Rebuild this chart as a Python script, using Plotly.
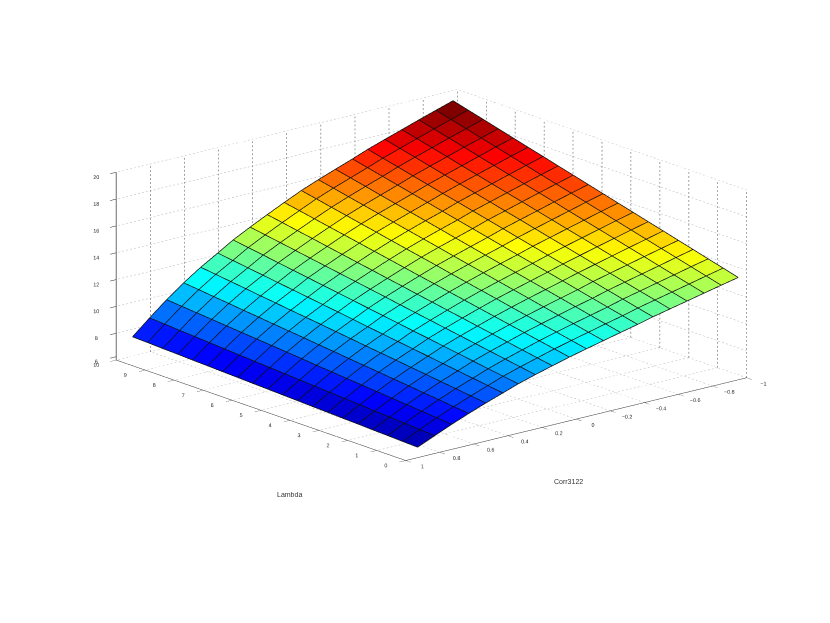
import plotly.graph_objects as go

# axis ticks
lambda_ticks = [0, 1, 2, 3, 4, 5, 6, 7, 8, 9, 10]
corr_ticks = [-1, -0.8, -0.6, -0.4, -0.2, 0, 0.2, 0.4, 0.6, 0.8, 1]
z_ticks = [6, 8, 10, 12, 14, 16, 18, 20]
# the 6 sits a little above its spot so it does not land on the lambda 10 label
z_tick_spots = [6.25, 8, 10, 12, 14, 16, 18, 20]

# surface grid, values
lambdas = [0, 0.52, 1.04, 1.56, 2.07, 2.59, 3.11, 3.63, 4.15, 4.67, 5.18, 5.7, 6.22, 6.74, 7.26, 7.78, 8.29, 8.81, 9.33, 9.85]
corrs = [0.93, 0.83, 0.73, 0.63, 0.53, 0.43, 0.34, 0.24, 0.14, 0.04, -0.06, -0.16, -0.26, -0.36, -0.45, -0.55, -0.65, -0.75, -0.85, -0.95]
values = [
    [6.75, 7.30, 7.84, 8.34, 8.81, 9.25, 9.65, 10.03, 10.38, 10.72, 11.03, 11.33, 11.63, 11.92, 12.21, 12.49, 12.77, 13.05, 13.33, 13.60],
    [6.79, 7.37, 7.94, 8.46, 8.95, 9.41, 9.83, 10.22, 10.58, 10.94, 11.26, 11.57, 11.88, 12.18, 12.48, 12.77, 13.05, 13.34, 13.63, 13.91],
    [6.84, 7.45, 8.04, 8.59, 9.10, 9.57, 10.00, 10.41, 10.79, 11.16, 11.50, 11.82, 12.13, 12.44, 12.75, 13.04, 13.34, 13.63, 13.93, 14.21],
    [6.88, 7.52, 8.14, 8.71, 9.24, 9.73, 10.18, 10.60, 10.99, 11.38, 11.73, 12.06, 12.39, 12.70, 13.02, 13.32, 13.62, 13.92, 14.23, 14.52],
    [6.93, 7.59, 8.24, 8.84, 9.39, 9.89, 10.36, 10.79, 11.20, 11.59, 11.96, 12.30, 12.64, 12.96, 13.29, 13.60, 13.91, 14.22, 14.52, 14.82],
    [6.97, 7.67, 8.34, 8.96, 9.53, 10.05, 10.53, 10.98, 11.40, 11.81, 12.19, 12.55, 12.89, 13.23, 13.55, 13.87, 14.19, 14.51, 14.82, 15.13],
    [7.02, 7.74, 8.44, 9.09, 9.68, 10.21, 10.71, 11.17, 11.61, 12.03, 12.43, 12.79, 13.14, 13.49, 13.82, 14.15, 14.48, 14.80, 15.12, 15.43],
    [7.06, 7.82, 8.54, 9.21, 9.82, 10.37, 10.88, 11.36, 11.81, 12.25, 12.66, 13.03, 13.39, 13.75, 14.09, 14.43, 14.76, 15.09, 15.42, 15.74],
    [7.11, 7.89, 8.64, 9.33, 9.96, 10.53, 11.06, 11.55, 12.02, 12.47, 12.89, 13.28, 13.65, 14.01, 14.36, 14.70, 15.04, 15.38, 15.72, 16.04],
    [7.15, 7.96, 8.74, 9.46, 10.11, 10.69, 11.24, 11.74, 12.22, 12.69, 13.12, 13.52, 13.90, 14.27, 14.63, 14.98, 15.33, 15.67, 16.02, 16.35],
    [7.20, 8.04, 8.85, 9.58, 10.25, 10.86, 11.41, 11.94, 12.43, 12.90, 13.36, 13.76, 14.15, 14.53, 14.90, 15.26, 15.61, 15.97, 16.31, 16.65],
    [7.24, 8.11, 8.95, 9.71, 10.40, 11.02, 11.59, 12.13, 12.63, 13.12, 13.59, 14.01, 14.40, 14.79, 15.17, 15.53, 15.90, 16.26, 16.61, 16.96],
    [7.29, 8.18, 9.05, 9.83, 10.54, 11.18, 11.77, 12.32, 12.84, 13.34, 13.82, 14.25, 14.66, 15.05, 15.44, 15.81, 16.18, 16.55, 16.91, 17.26],
    [7.33, 8.26, 9.15, 9.95, 10.68, 11.34, 11.94, 12.51, 13.04, 13.56, 14.05, 14.49, 14.91, 15.31, 15.71, 16.09, 16.46, 16.84, 17.21, 17.57],
    [7.38, 8.33, 9.25, 10.08, 10.83, 11.50, 12.12, 12.70, 13.25, 13.78, 14.29, 14.73, 15.16, 15.58, 15.97, 16.37, 16.75, 17.13, 17.51, 17.87],
    [7.42, 8.41, 9.35, 10.20, 10.97, 11.66, 12.29, 12.89, 13.45, 14.00, 14.52, 14.98, 15.41, 15.84, 16.24, 16.64, 17.03, 17.42, 17.81, 18.18],
    [7.47, 8.48, 9.45, 10.33, 11.12, 11.82, 12.47, 13.08, 13.66, 14.21, 14.75, 15.22, 15.66, 16.10, 16.51, 16.92, 17.32, 17.72, 18.10, 18.48],
    [7.51, 8.55, 9.55, 10.45, 11.26, 11.98, 12.65, 13.27, 13.86, 14.43, 14.98, 15.46, 15.92, 16.36, 16.78, 17.20, 17.60, 18.01, 18.40, 18.79],
    [7.56, 8.63, 9.65, 10.58, 11.41, 12.14, 12.82, 13.46, 14.07, 14.65, 15.22, 15.71, 16.17, 16.62, 17.05, 17.47, 17.89, 18.30, 18.70, 19.09],
    [7.60, 8.70, 9.75, 10.70, 11.55, 12.30, 13.00, 13.65, 14.27, 14.87, 15.45, 15.95, 16.42, 16.88, 17.32, 17.75, 18.17, 18.59, 19.00, 19.40],
]

# matlab jet
jet = [[0, "rgb(0,0,143)"], [0.125, "rgb(0,0,255)"], [0.375, "rgb(0,255,255)"],
       [0.625, "rgb(255,255,0)"], [0.875, "rgb(255,0,0)"], [1, "rgb(128,0,0)"]]

n_l = len(lambdas)
n_c = len(corrs)

# flat coloured cells as a mesh, two triangles per cell
xs, ys, zs, ii, jj, kk, cell_vals = [], [], [], [], [], [], []
for a in range(n_l):
    for b in range(n_c):
        xs.append(lambdas[a])
        ys.append(corrs[b])
        zs.append(values[a][b])
for a in range(n_l - 1):
    for b in range(n_c - 1):
        p = a * n_c + b
        q = p + 1
        r = p + n_c
        s = r + 1
        ii += [p, q]
        jj += [q, s]
        kk += [r, r]
        # a cell takes the colour of its highest corner
        top = max(values[a][b], values[a][b + 1], values[a + 1][b], values[a + 1][b + 1])
        cell_vals += [top, top]

fig = go.Figure()
fig.add_trace(go.Mesh3d(
    x=xs, y=ys, z=zs, i=ii, j=jj, k=kk,
    intensity=cell_vals, intensitymode="cell",
    colorscale=jet, cmin=6.75, cmax=19.4, showscale=False,
    flatshading=True,
    lighting=dict(ambient=1, diffuse=0, specular=0, roughness=1, fresnel=0),
    hoverinfo="skip",
))

# black mesh lines
lx, ly, lz = [], [], []
for a in range(n_l):
    for b in range(n_c):
        lx.append(lambdas[a]); ly.append(corrs[b]); lz.append(values[a][b] + 0.03)
    lx.append(None); ly.append(None); lz.append(None)
for b in range(n_c):
    for a in range(n_l):
        lx.append(lambdas[a]); ly.append(corrs[b]); lz.append(values[a][b] + 0.03)
    lx.append(None); ly.append(None); lz.append(None)
fig.add_trace(go.Scatter3d(x=lx, y=ly, z=lz, mode="lines", line=dict(color="rgb(15,15,15)", width=1.5), hoverinfo="skip"))


# gl dash patterns come out far too long here, so the dots are short segments
def dotted(out, start, end, n):
    for d in range(n):
        f0 = d / n
        f1 = (d + 0.45) / n
        for axis in range(3):
            out[axis].extend([start[axis] + (end[axis] - start[axis]) * f0,
                              start[axis] + (end[axis] - start[axis]) * f1, None])


# grid on the floor and the two back walls
light = ([], [], [])
for t in lambda_ticks:
    dotted(light, (t, -1, 6), (t, 1, 6), 87)
for t in corr_ticks:
    dotted(light, (0, t, 6), (10, t, 6), 76)
for t in z_ticks:
    dotted(light, (10, -1, t), (10, 1, t), 87)
    dotted(light, (0, -1, t), (10, -1, t), 76)
fig.add_trace(go.Scatter3d(x=light[0], y=light[1], z=light[2], mode="lines", line=dict(color="rgb(175,175,175)", width=1), hoverinfo="skip"))

dark = ([], [], [])
for t in lambda_ticks:
    dotted(dark, (t, -1, 6), (t, -1, 20), 47)
for t in corr_ticks:
    dotted(dark, (10, t, 6), (10, t, 20), 47)
fig.add_trace(go.Scatter3d(x=dark[0], y=dark[1], z=dark[2], mode="lines", line=dict(color="rgb(60,60,60)", width=1), hoverinfo="skip"))

axis_style = dict(
    showbackground=False, showgrid=False, zeroline=False, showspikes=False,
    showline=True, linecolor="rgb(40,40,40)", linewidth=1,
    ticks="outside", ticklen=8, tickcolor="rgb(40,40,40)", tickwidth=1,
    tickangle=0,
    tickfont=dict(family="Liberation Sans", size=8, color="rgb(40,40,40)"),
    title=dict(text=""),
)

fig.update_layout(
    width=830, height=623,
    paper_bgcolor="white",
    margin=dict(l=0, r=0, t=0, b=0),
    showlegend=False,
    scene=dict(
        domain=dict(x=[0.03, 0.99], y=[0.143, 1]),
        aspectmode="manual",
        aspectratio=dict(x=1.69, y=1.665, z=0.735),
        xaxis=dict(axis_style, range=[0, 10], tickvals=lambda_ticks),
        yaxis=dict(axis_style, range=[-1, 1], tickvals=corr_ticks),
        zaxis=dict(axis_style, range=[6, 20], tickvals=z_tick_spots, ticktext=[str(t) for t in z_ticks],
                   linecolor="rgb(110,110,110)", linewidth=2),
        camera=dict(
            projection=dict(type="orthographic"),
            up=dict(x=0, y=0, z=1),
            center=dict(x=0, y=0, z=0),
            eye=dict(x=-1.1, y=0.92, z=0.435),
        ),
    ),
    annotations=[
        dict(text="Lambda", x=281 / 830, y=1 - 486 / 623, xref="paper", yref="paper", showarrow=False,
             xanchor="center", yanchor="middle",
             font=dict(family="Liberation Sans", size=7, color="rgb(50,50,50)")),
        dict(text="Corr3122", x=560 / 830, y=1 - 473 / 623, xref="paper", yref="paper", showarrow=False,
             xanchor="center", yanchor="middle",
             font=dict(family="Liberation Sans", size=7, color="rgb(50,50,50)")),
    ],
)

fig.write_html("out.html")
